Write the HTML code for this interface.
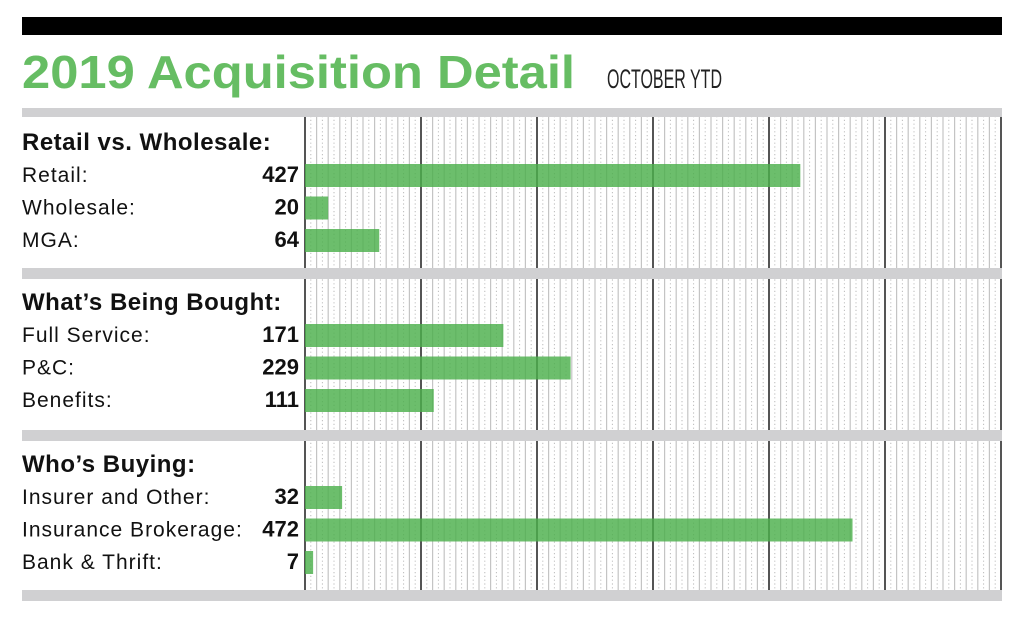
<!DOCTYPE html>
<html><head><meta charset="utf-8"><style>
html,body{margin:0;padding:0;background:#fff;width:1024px;height:620px;overflow:hidden}
svg text{font-family:"Liberation Sans",sans-serif}
</style></head><body>
<svg id="chart" width="1024" height="620" viewBox="0 0 1024 620">
<rect x="22" y="17" width="980" height="18" fill="#000"/>
<text x="22" y="88" font-size="46" font-weight="bold" fill="#66bd63" textLength="553" lengthAdjust="spacingAndGlyphs">2019 Acquisition Detail</text>
<text x="607" y="88" font-size="27" fill="#222" textLength="115" lengthAdjust="spacingAndGlyphs">OCTOBER YTD</text>
<g id="grid"></g>
<g id="bands"></g>
<g id="bars"></g>
<g id="labels"></g>
</svg>
<script>
const sectionTitles = ["Retail vs. Wholesale:", "What’s Being Bought:", "Who’s Buying:"];
const categories = [
  ["Retail:", "Wholesale:", "MGA:"],
  ["Full Service:", "P&C:", "Benefits:"],
  ["Insurer and Other:", "Insurance Brokerage:", "Bank & Thrift:"]
];
const values = [
  [427, 20, 64],
  [171, 229, 111],
  [32, 472, 7]
];
const maxValue = 600;

const NS = "http://www.w3.org/2000/svg";
const x0 = 305, x1 = 1001;
const xs = v => x0 + (x1 - x0) * v / maxValue;
const bandTops = [108, 268, 430, 590];
function mk(tag, attrs, parent){
  const e = document.createElementNS(NS, tag);
  for (const k in attrs) e.setAttribute(k, attrs[k]);
  parent.appendChild(e);
  return e;
}
const grid = document.getElementById("grid");
for (let v = 0; v <= maxValue; v += 5) {
  const x = xs(v);
  let l;
  if (v % 100 === 0) {
    l = mk("line", {x1:x, x2:x, y1:116, y2:592, stroke:"#555", "stroke-width":2}, grid);
    
  } else if (v % 10 === 0) {
    l = mk("line", {x1:x, x2:x, y1:116, y2:592, stroke:"#c4c4c4", "stroke-width":1.2}, grid);
    
  } else {
    l = mk("line", {x1:x, x2:x, y1:116, y2:592, stroke:"#bbb", "stroke-width":1, "stroke-dasharray":"1.2 2.6"}, grid);
    
  }
  
}
const bands = document.getElementById("bands");
bandTops.forEach((t, i) => {
  const r = mk("rect", {x:22, y:t, width:980, height:i===0?9:11, fill:"#d0d0d2"}, bands);
  
  
});
const bars = document.getElementById("bars");
const labels = document.getElementById("labels");
sectionTitles.forEach((title, s) => {
  const top = bandTops[s];
  const h = mk("text", {x:22, y:top+42, "font-size":24, "font-weight":"bold", "letter-spacing":0.5, fill:"#111"}, labels);
  h.textContent = title;
  
  
  categories[s].forEach((c, j) => {
    const base = top + 74 + j * 32.5;
    const t = mk("text", {x:22, y:base, "font-size":21, "letter-spacing":1, fill:"#111"}, labels);
    t.textContent = c;
    
    
    const vt = mk("text", {x:299, y:base, "font-size":22, "font-weight":"bold", fill:"#111", "text-anchor":"end"}, labels);
    vt.textContent = values[s][j];
    
    
    const b = mk("rect", {x:x0, y:base-18, width:xs(values[s][j]) - x0, height:23, fill:"#4cb04c", "fill-opacity":0.82}, bars);
    
    
  });
});
</script>
</body></html>
